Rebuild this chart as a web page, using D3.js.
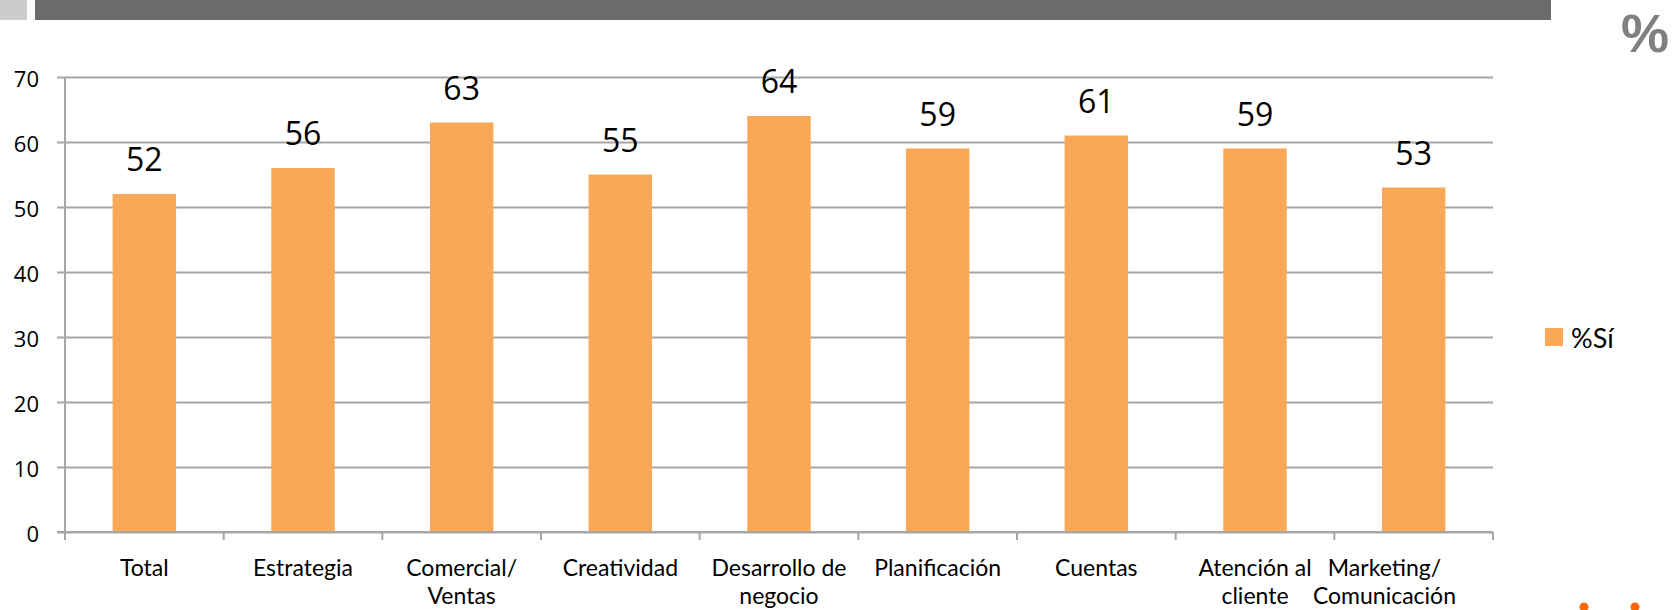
<!DOCTYPE html>
<html>
<head>
<meta charset="utf-8">
<script src="https://cdn.jsdelivr.net/npm/d3@7/dist/d3.min.js"></script>
<style>
  html, body { margin: 0; padding: 0; background: #ffffff; }
  svg { display: block; }
  text { font-family: "Open Sans", "Noto Sans", sans-serif; fill: #000; }
</style>
</head>
<body>
<svg id="chart" width="1677" height="610"></svg>
<script>
// Share of "Sí" answers by department
const categories = [
  ["Total"],
  ["Estrategia"],
  ["Comercial/", "Ventas"],
  ["Creatividad"],
  ["Desarrollo de", "negocio"],
  ["Planificación"],
  ["Cuentas"],
  ["Atención al", "cliente"],
  ["Marketing/", "Comunicación"]
];
const values = [52, 56, 63, 55, 64, 59, 61, 59, 53];
const yTicks = [0, 10, 20, 30, 40, 50, 60, 70];
const seriesName = "%Sí";

const svg = d3.select("#chart");
const plot = { left: 65, right: 1493, top: 77, bottom: 532 };
const labelMaxRight = 1456;
const barColor = "#F9A857";
const gridColor = "#a6a6a6";
const catFont = "Lato, \"Open Sans\", sans-serif";

// Header strip
svg.append("rect").attr("x", 0).attr("y", 0).attr("width", 27).attr("height", 20).attr("fill", "#cccccc");
svg.append("rect").attr("x", 35).attr("y", 0).attr("width", 1516).attr("height", 20).attr("fill", "#6b6b6b");
svg.append("text").attr("x", 1645).attr("y", 52).attr("text-anchor", "middle")
  .style("font-family", "\"Liberation Sans\", Arial, sans-serif")
  .style("font-size", "54px").style("font-weight", "700").style("fill", "#808080").text("%");

// Decorative dots at the bottom-right corner
[1584, 1635].forEach(cx => {
  svg.append("circle").attr("cx", cx).attr("cy", 607).attr("r", 4.5).attr("fill", "#FF6600");
});

const keys = categories.map(c => c.join(" "));
const x = d3.scaleBand().domain(keys).range([plot.left, plot.right]).paddingInner(0.6).paddingOuter(0.3);
const y = d3.scaleLinear().domain([0, 70]).range([plot.bottom, plot.top]);

// Horizontal gridlines with outward tick stubs
const yAxis = d3.axisLeft(y).tickValues(yTicks).tickSize(-(plot.right - plot.left)).tickSizeOuter(0).tickPadding(26);
const gy = svg.append("g").attr("transform", `translate(${plot.left},0)`).call(yAxis);
gy.select(".domain").remove();
gy.selectAll(".tick line").attr("x1", -8).attr("stroke", gridColor).attr("stroke-width", 2);
gy.selectAll(".tick text")
  .attr("dy", "0.45em")
  .style("font-size", "22px").style("font-family", "\"Open Sans\", sans-serif").style("fill", "#000");

// Vertical axis line
svg.append("line").attr("x1", plot.left).attr("x2", plot.left).attr("y1", plot.top).attr("y2", plot.bottom + 1)
  .attr("stroke", gridColor).attr("stroke-width", 2);

// Bars
svg.append("g").selectAll("rect").data(values).join("rect")
  .attr("x", (d, i) => x(keys[i]))
  .attr("y", d => y(d))
  .attr("width", x.bandwidth())
  .attr("height", d => y(0) - y(d))
  .attr("fill", barColor);

// Value labels
svg.append("g").selectAll("text").data(values).join("text")
  .attr("x", (d, i) => x(keys[i]) + x.bandwidth() / 2)
  .attr("y", d => y(d) - 23)
  .attr("text-anchor", "middle")
  .style("font-size", "32px")
  .text(d => d);

// Category axis: baseline and boundary ticks
svg.append("line").attr("x1", plot.left - 8).attr("x2", plot.right).attr("y1", plot.bottom).attr("y2", plot.bottom)
  .attr("stroke", gridColor).attr("stroke-width", 2);
const step = x.step();
const bounds = d3.range(keys.length + 1).map(i => plot.left + i * step);
svg.append("g").selectAll("line").data(bounds).join("line")
  .attr("x1", d => d).attr("x2", d => d)
  .attr("y1", plot.bottom).attr("y2", plot.bottom + 8)
  .attr("stroke", gridColor).attr("stroke-width", 2);

// Category labels (one or two lines), kept inside the chart area on the right
const catG = svg.append("g");
categories.forEach((lines, i) => {
  let cx = x(keys[i]) + x.bandwidth() / 2;
  const texts = lines.map((ln, j) => catG.append("text")
    .attr("y", 576 + j * 28)
    .attr("text-anchor", "middle")
    .style("font-family", catFont)
    .style("font-size", "23px")
    .text(ln));
  const w = d3.max(texts, t => t.node().getComputedTextLength());
  if (cx + w / 2 > labelMaxRight) cx = labelMaxRight - w / 2;
  texts.forEach(t => t.attr("x", cx));
});

// Legend
svg.append("rect").attr("x", 1545).attr("y", 328).attr("width", 18).attr("height", 18).attr("fill", barColor);
svg.append("text").attr("x", 1571).attr("y", 348)
  .style("font-family", catFont).style("font-size", "27px").text(seriesName);
</script>
</body>
</html>
